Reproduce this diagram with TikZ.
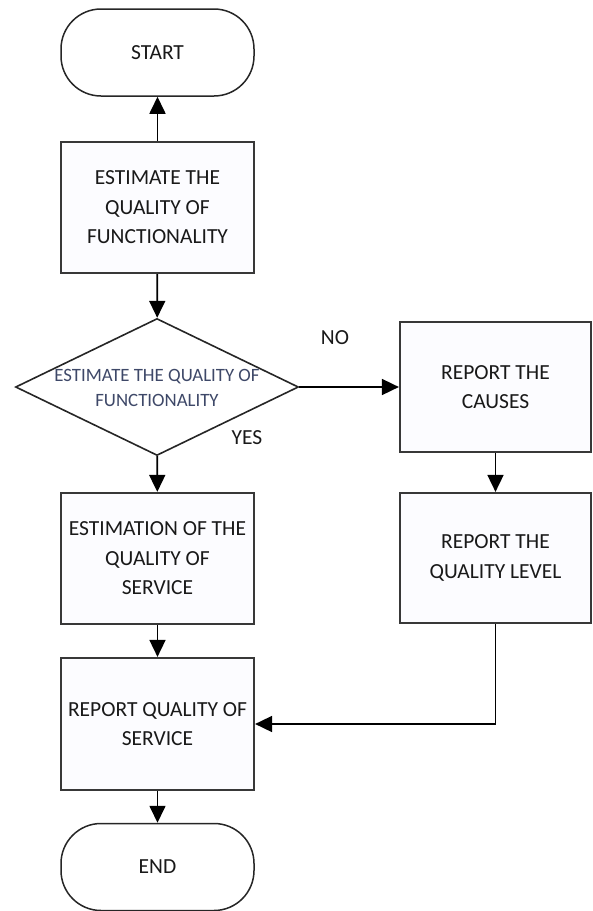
\documentclass[tikz,border=0pt]{standalone}
\usepackage{fontspec}
\setmainfont{Carlito}
\usepackage{tikz}
\usetikzlibrary{shapes.geometric,arrows.meta}
\definecolor{dectext}{HTML}{3E4868}

\begin{document}
\begin{tikzpicture}
            [x=1pt,y=-1pt,thick,
             every node/.style={font=\fontsize{21.5}{29.5}\selectfont,text=black!90,align=center},
             term/.style={draw=black!85,line width=1.5pt,rounded corners=40pt,minimum width=193pt,minimum height=87pt,fill=white},
             proc/.style={draw=black!78,line width=2.2pt,minimum width=193pt,minimum height=131pt,fill=blue!1},
             decision/.style={diamond,draw=black!85,line width=1.6pt,aspect=2.07,inner sep=0pt,minimum width=283pt,minimum height=137pt,fill=white},
             flow/.style={line width=1.7pt,-{Triangle[width=16pt,length=17pt]}}]
            \useasboundingbox (0,0) rectangle (593,911);
            \node[term] (start) at (157.5,52.5) {START};
            \node[proc] (func) at (157.5,207.5) {ESTIMATE THE\\QUALITY OF\\FUNCTIONALITY};
            \node[decision] (check) at (157,387) {};
            \node[font=\fontsize{18.8}{25}\selectfont,text=dectext] (checktext) at (157,387.5) {ESTIMATE THE QUALITY OF\\FUNCTIONALITY};
            \node[proc,minimum width=191pt,minimum height=130pt] (causes) at (495.5,387) {REPORT THE\\CAUSES};
            \node[proc,minimum width=191pt,minimum height=130pt] (level) at (495.5,558) {REPORT THE\\QUALITY LEVEL};
            \node[proc] (service) at (157.5,558.5) {ESTIMATION OF THE\\QUALITY OF\\SERVICE};
            \node[proc,minimum height=132pt] (report) at (157.5,724) {REPORT QUALITY OF\\SERVICE};
            \node[term] (end) at (157.5,867) {END};
            \node (no) at (335,338) {NO};
            \node (yes) at (247,438) {YES};
            %
            \draw[flow] (func) -- (start);
            \draw[flow] (func) -- (check);
            \draw[flow] (check) -- (causes);
            \draw[flow] (causes) -- (level);
            \draw[flow] (check) -- (service);
            \draw[flow] (service) -- (report);
            \draw[flow] (level.south) |- (report.east);
            \draw[flow] (report) -- (end);
        \end{tikzpicture}
\end{document}
